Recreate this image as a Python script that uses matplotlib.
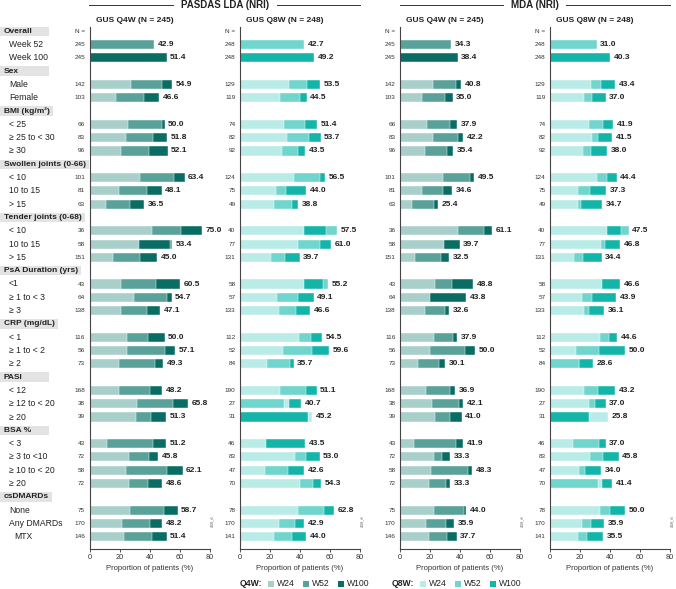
import matplotlib.pyplot as plt
import matplotlib.patches as patches
import matplotlib.transforms as mtransforms

plt.rcParams['font.family'] = ['Liberation Sans', 'DejaVu Sans']

W, H = 676, 589

groups = ['Sex', 'BMI (kg/m²)', 'Swollen joints (0-66)', 'Tender joints (0-68)',
          'PsA Duration (yrs)', 'CRP (mg/dL)', 'PASI', 'BSA %', 'csDMARDs']
subgroups = [['Male', 'Female'],
             ['< 25', '≥ 25 to < 30', '≥ 30'],
             ['< 10', '10 to 15', '> 15'],
             ['< 10', '10 to 15', '> 15'],
             ['<1', '≥ 1 to < 3', '≥ 3'],
             ['< 1', '≥ 1 to < 2', '≥ 2'],
             ['< 12', '≥ 12 to < 20', '≥ 20'],
             ['< 3', '≥ 3 to <10', '≥ 10 to < 20', '≥ 20'],
             ['None', 'Any DMARDs', 'MTX']]

# N per subgroup
n_q4w = [142, 103, 66, 83, 96, 101, 81, 63, 36, 58, 151, 43, 64, 138,
         116, 56, 73, 168, 38, 39, 43, 72, 58, 72, 75, 170, 146]
n_q8w = [129, 119, 74, 82, 92, 124, 75, 49, 40, 77, 131, 58, 57, 133,
         112, 52, 84, 190, 27, 31, 46, 83, 47, 70, 78, 170, 141]

# overall (week 52, week 100)
pasdas_q4w_overall = [42.9, 51.4]
pasdas_q8w_overall = [42.7, 49.2]
mda_q4w_overall = [34.3, 38.4]
mda_q8w_overall = [31.0, 40.3]

# PASDAS LDA, Q4W
pasdas_q4w_w24 = [27.7, 17.5, 25.9, 24.1, 20.8, 33.7, 19.9, 11.0, 41.7, 32.8, 15.4, 20.8, 29.7, 20.8,
                  25.0, 25.0, 19.4, 19.9, 31.7, 31.0, 11.7, 26.6, 24.1, 26.4, 27.0, 21.9, 23.2]
pasdas_q4w_w52 = [48.2, 36.0, 48.6, 42.3, 39.7, 56.4, 38.3, 27.0, 61.2, 55.3, 33.9, 44.3, 51.4, 38.6,
                  39.0, 50.3, 43.7, 40.6, 55.5, 41.2, 42.1, 39.9, 51.7, 38.9, 49.4, 40.1, 41.9]
pasdas_q4w_w100 = [54.9, 46.6, 50.0, 51.8, 52.1, 63.4, 48.1, 36.5, 75.0, 53.4, 45.0, 60.5, 54.7, 47.1,
                   50.0, 57.1, 49.3, 48.2, 65.8, 51.3, 51.2, 45.8, 62.1, 48.6, 58.7, 48.2, 51.4]

# PASDAS LDA, Q8W
pasdas_q8w_w24 = [32.7, 26.9, 29.6, 31.6, 28.2, 36.2, 24.2, 22.4, 42.4, 38.9, 20.4, 42.9, 24.7, 26.0,
                  39.3, 28.7, 18.0, 26.9, 32.9, 48.2, 17.1, 36.4, 16.9, 40.2, 38.4, 25.8, 22.9]
pasdas_q8w_w52 = [44.9, 40.2, 43.3, 46.2, 38.9, 53.1, 30.9, 34.9, 64.7, 53.1, 29.8, 58.5, 38.7, 37.6,
                  47.3, 48.2, 33.1, 43.8, 29.5, 45.3, 43.6, 44.2, 31.8, 48.4, 56.2, 36.4, 34.9]
pasdas_q8w_w100 = [53.5, 44.5, 51.4, 53.7, 43.5, 56.5, 44.0, 38.8, 57.5, 61.0, 39.7, 55.2, 49.1, 46.6,
                   54.5, 59.6, 35.7, 51.1, 40.7, 45.2, 43.5, 53.0, 42.6, 54.3, 62.8, 42.9, 44.0]

# MDA, Q4W
mda_q4w_w24 = [21.8, 14.4, 18.2, 21.8, 16.7, 28.7, 14.7, 7.8, 38.9, 29.1, 10.0, 23.3, 20.2, 16.7,
               22.4, 19.8, 12.2, 17.1, 21.1, 23.3, 9.1, 22.4, 20.7, 19.3, 22.7, 17.1, 19.1]
mda_q4w_w52 = [37.1, 30.0, 33.1, 38.7, 31.3, 46.4, 28.4, 22.4, 55.8, 39.8, 27.1, 34.9, 43.9, 29.8,
               35.3, 43.1, 26.0, 33.3, 39.3, 33.3, 37.1, 27.8, 45.1, 30.4, 42.4, 30.4, 31.3]
mda_q4w_w100 = [40.8, 35.0, 37.9, 42.2, 35.4, 49.5, 34.6, 25.4, 61.1, 39.7, 32.5, 48.8, 43.8, 32.6,
                37.9, 50.0, 30.1, 36.9, 42.1, 41.0, 41.9, 33.3, 48.3, 33.3, 44.0, 35.9, 37.7]

# MDA, Q8W
mda_q8w_w24 = [27.3, 22.9, 26.0, 28.2, 22.0, 31.6, 18.7, 18.7, 37.8, 34.0, 16.2, 34.7, 21.3, 22.7,
               33.1, 17.3, 19.4, 22.9, 26.0, 38.9, 15.1, 26.9, 19.3, 34.4, 33.3, 21.3, 18.7]
mda_q8w_w52 = [34.2, 28.0, 35.3, 32.0, 27.3, 38.0, 26.9, 20.7, 52.4, 36.7, 21.8, 46.7, 28.2, 25.8,
               39.1, 32.9, 19.3, 32.2, 30.0, 25.9, 32.9, 35.1, 23.6, 31.8, 40.0, 27.3, 24.9]
mda_q8w_w100 = [43.4, 37.0, 41.9, 41.5, 38.0, 44.4, 37.3, 34.7, 47.5, 46.8, 34.4, 46.6, 43.9, 36.1,
                44.6, 50.0, 28.6, 43.2, 37.0, 25.8, 37.0, 45.8, 34.0, 41.4, 50.0, 35.9, 35.5]

q4w_colors = ['#a9cfcb', '#5aa199', '#0a6d64']
q8w_colors = ['#b9ebe7', '#70d5cd', '#13b5a9']
text_color = '#222222'


def fx(px):
    return px / W


def fy(py):
    return 1 - py / H


# row layout: Overall header, Week 52, Week 100, then groups
overall_rows = [1, 2]
header_rows = [0]
sub_rows = []
y = 3
for g, subs in zip(groups, subgroups):
    header_rows.append(y)
    y += 1
    for s in subs:
        sub_rows.append(y)
        y += 1
n_rows = y

fig = plt.figure(figsize=(W / 100, H / 100), dpi=100)

ax_left = [89.5, 240, 400, 550]
ax_top, ax_bot = 27, 549
row0_px, row_step = 31.3, 13.3


def make_axes(x0):
    ax = fig.add_axes([fx(x0), fy(ax_bot), 120 / W, (ax_bot - ax_top) / H])
    top = -(row0_px - ax_top) / row_step
    bot = (ax_bot - row0_px) / row_step
    ax.set_ylim(bot, top)
    ax.set_xlim(0, 80)
    ax.set_yticks([])
    ax.set_xticks([0, 20, 40, 60, 80])
    ax.tick_params(axis='x', labelsize=5.3, length=2, width=0.6, pad=1.5, colors='#333333')
    for s in ['top', 'right']:
        ax.spines[s].set_visible(False)
    for s in ['left', 'bottom']:
        ax.spines[s].set_linewidth(0.8)
        ax.spines[s].set_color('#444444')
    ax.set_xlabel('Proportion of patients (%)', fontsize=5.5, color='#333333', labelpad=3)
    ax.patch.set_alpha(0)
    return ax


def draw_panel(ax, title, n_all, overall, n, w24, w52, w100, colors):
    ax.text(6.5 / 1.5, -0.78, title, fontsize=6, fontweight='bold', ha='left', va='center',
            color=text_color, clip_on=False)
    ax.text(-3, 0, 'N =', fontsize=4.6, ha='right', va='center', color='#333333', clip_on=False)
    # overall
    for r, v, c in zip(overall_rows, overall, colors[1:]):
        ax.barh(r, v, height=0.68, color=c, edgecolor='white', linewidth=0.3)
        ax.text(v + 2.4, r, f'{v:.1f}', fontsize=6, fontweight='bold', va='center', color=text_color)
        ax.text(-3, r, str(n_all), fontsize=4.6, ha='right', va='center', color='#333333', clip_on=False)
    # subgroups: longest drawn at back
    for i, r in enumerate(sub_rows):
        segs = [(w52[i], colors[1]), (w100[i], colors[2]), (w24[i], colors[0])]
        segs = sorted(segs, key=lambda s: -s[0])
        for v, c in segs:
            ax.barh(r, v, height=0.68, color=c, edgecolor='white', linewidth=0.3)
        ax.text(max(s[0] for s in segs) + 2.4, r, f'{w100[i]:.1f}', fontsize=6,
                fontweight='bold', va='center', color=text_color)
        ax.text(-3, r, str(n[i]), fontsize=4.6, ha='right', va='center', color='#333333', clip_on=False)
    ax.text(80.5, n_rows - 2.2, '4408_r5', fontsize=2.3, rotation=90, ha='left', va='center',
            color='#555555', clip_on=False)


axes = [make_axes(x0) for x0 in ax_left]
draw_panel(axes[0], 'GUS Q4W (N = 245)', 245, pasdas_q4w_overall, n_q4w,
           pasdas_q4w_w24, pasdas_q4w_w52, pasdas_q4w_w100, q4w_colors)
draw_panel(axes[1], 'GUS Q8W (N = 248)', 248, pasdas_q8w_overall, n_q8w,
           pasdas_q8w_w24, pasdas_q8w_w52, pasdas_q8w_w100, q8w_colors)
draw_panel(axes[2], 'GUS Q4W (N = 245)', 245, mda_q4w_overall, n_q4w,
           mda_q4w_w24, mda_q4w_w52, mda_q4w_w100, q4w_colors)
draw_panel(axes[3], 'GUS Q8W (N = 248)', 248, mda_q8w_overall, n_q8w,
           mda_q8w_w24, mda_q8w_w52, mda_q8w_w100, q8w_colors)

# row labels on the left
tr = mtransforms.blended_transform_factory(fig.transFigure, axes[0].transData)
renderer = fig.canvas.get_renderer()
header_texts = ['Overall'] + groups
sub_labels = [s for subs in subgroups for s in subs]
for r, lab in zip(header_rows, header_texts):
    t = fig.text(fx(4), r, lab, fontsize=6, fontweight='bold', va='center', color=text_color,
                 transform=tr)
    ext = t.get_window_extent(renderer)
    wbox = max(49, ext.x1 + 3)
    box = patches.Rectangle((0, r - 0.36), fx(wbox), 0.72, transform=tr, facecolor='#e3e3e3',
                            edgecolor='none', zorder=-1)
    fig.patches.append(box)
for r, lab in zip(overall_rows, ['Week 52', 'Week 100']):
    fig.text(fx(9), r, lab, fontsize=6.2, va='center', color=text_color, transform=tr)
for r, lab in zip(sub_rows, sub_labels):
    xpos = 14 if lab == 'MTX' else 9
    fig.text(fx(xpos), r, lab, fontsize=6.2, va='center', color=text_color, transform=tr)

# section headers
for label, x0, x1, xc in [('PASDAS LDA (NRI)', 89, 360, 225), ('MDA (NRI)', 400, 670, 534.5)]:
    t = fig.text(fx(xc), fy(5), label, fontsize=7, fontweight='bold', ha='center', va='center',
                 color=text_color)
    ext = t.get_window_extent(renderer)
    fig.add_artist(plt.Line2D([fx(x0), fx(ext.x0 - 8)], [fy(5), fy(5)], color='#333333', lw=0.7))
    fig.add_artist(plt.Line2D([fx(ext.x1 + 8), fx(x1)], [fy(5), fy(5)], color='#333333', lw=0.7))

# legend
ly = 584
for name, x0, colors in [('Q4W:', 240, q4w_colors), ('Q8W:', 392, q8w_colors)]:
    fig.text(fx(x0), fy(ly), name, fontsize=6.2, fontweight='bold', va='center', color=text_color)
    for k, (wk, c) in enumerate(zip(['W24', 'W52', 'W100'], colors)):
        sx = x0 + 28 + k * 35
        fig.patches.append(patches.Rectangle((fx(sx), fy(ly + 3)), fx(6), 6 / H,
                                             transform=fig.transFigure, facecolor=c))
        fig.text(fx(sx + 9), fy(ly), wk, fontsize=6.2, va='center', color=text_color)

fig.savefig('out.png', dpi=100)
